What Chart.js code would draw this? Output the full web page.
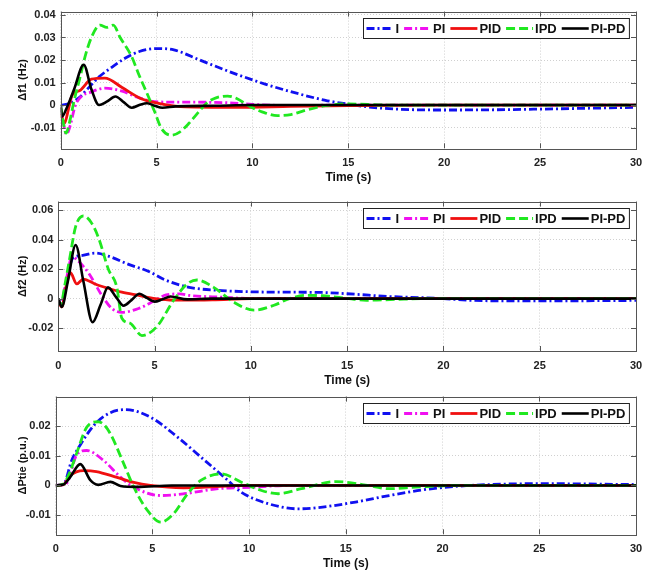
<!DOCTYPE html>
<html>
<head>
<meta charset="utf-8">
<script src="https://cdn.jsdelivr.net/npm/chart.js@4.4.1/dist/chart.umd.min.js"></script>
<style>
  html, body { margin: 0; padding: 0; background: #fff; overflow: hidden; }
  canvas { position: absolute; left: 0; }
</style>
</head>
<body>
<canvas id="f1"></canvas>
<canvas id="f2"></canvas>
<canvas id="ptie"></canvas>
<script>
// ---- data (time in s, value) ----
const seriesNames = ['I', 'PI', 'PID', 'IPD', 'PI-PD'];
const timeTicks = [0, 5, 10, 15, 20, 25, 30];

// Δf1 (Hz)
const f1Ticks = [-0.01, 0, 0.01, 0.02, 0.03, 0.04];
const f1_I = [[0,0],[0.4,0.0005],[1.0,0.0035],[1.4,0.0072],[2.0,0.0125],[2.7,0.017],[3.4,0.021],[4.1,0.0238],[5.0,0.0251],[5.9,0.0245],[7.25,0.02],[9.0,0.0142],[10.7,0.0092],[12.5,0.0048],[13.9,0.0019],[15.0,0.0004],[16.0,-0.0008],[17.5,-0.0018],[20,-0.0022],[22.5,-0.0021],[25,-0.0018],[30,-0.001]];
const f1_PI = [[0,0],[0.1,-0.006],[0.3,-0.013],[0.5,-0.009],[0.75,-0.0005],[1.1,0.004],[1.5,0.0055],[2.3,0.0075],[3.2,0.0062],[4.0,0.0035],[4.9,0.0015],[6,0.0013],[8.5,0.0011],[10,0.0003],[12,-0.0002],[15,0],[30,0]];
const f1_PID = [[0,-0.004],[0.2,-0.008],[0.4,-0.002],[0.6,0.0045],[1.0,0.0065],[1.6,0.0115],[2.3,0.012],[3.2,0.0078],[4.2,0.0028],[5.1,0.0008],[6.5,-0.0008],[9,-0.001],[12,-0.0006],[15,-0.0002],[20,0],[30,0]];
const f1_IPD = [[0,0],[0.12,-0.007],[0.28,-0.0125],[0.45,-0.008],[0.7,0.002],[1.0,0.012],[1.27,0.0215],[1.6,0.03],[2.05,0.0355],[2.4,0.0345],[2.74,0.0355],[3.1,0.03],[3.7,0.0215],[4.1,0.013],[4.56,0.004],[4.9,-0.003],[5.26,-0.0105],[5.78,-0.0134],[6.2,-0.012],[6.7,-0.008],[7.2,-0.003],[7.6,0.0008],[8.1,0.0032],[8.7,0.004],[9.2,0.0028],[9.8,-0.0003],[10.5,-0.003],[11.3,-0.0047],[12.0,-0.0042],[12.7,-0.0025],[13.8,-0.0003],[15,0.0005],[17,0],[30,0]];
const f1_PIPD = [[0,-0.001],[0.08,-0.005],[0.3,-0.0015],[0.7,0.007],[1.2,0.0179],[1.6,0.007],[2.0,0],[2.4,0.0015],[2.85,0.0038],[3.3,0.0012],[3.7,-0.0012],[4.1,0],[4.5,0.0008],[4.9,-0.0003],[5.3,-0.0012],[6,-0.0006],[8,-0.0003],[10,0],[30,0]];

// Δf2 (Hz)
const f2Ticks = [-0.02, 0, 0.02, 0.04, 0.06];
const f2_I = [[0,0],[0.15,-0.004],[0.4,0.01],[0.75,0.0275],[1.2,0.0293],[1.9,0.031],[2.6,0.0289],[3.65,0.0233],[4.7,0.0185],[5.5,0.013],[6.8,0.0077],[8.5,0.0055],[10.2,0.0046],[12,0.0044],[13.7,0.0042],[15.4,0.003],[17.1,0.0015],[18.8,0.0007],[20,0],[21.4,-0.0011],[23,-0.0015],[26,-0.0015],[30,-0.0012]];
const f2_PI = [[0,0],[0.15,-0.004],[0.4,0.012],[0.72,0.0285],[1.0,0.026],[1.56,0.0177],[2.26,0.0022],[2.78,-0.0067],[3.3,-0.0093],[4.17,-0.0067],[5.04,-0.0011],[5.6,0.0025],[6.3,0.0032],[6.8,0.0022],[8.5,0.001],[10.2,0],[30,0]];
const f2_PID = [[0,-0.002],[0.18,-0.0056],[0.4,0.008],[0.62,0.0178],[0.96,0.01],[1.3,0.0133],[1.9,0.01],[2.43,0.0077],[3.3,0.0044],[4.17,0.0022],[5.04,0],[6,-0.001],[8,-0.0008],[10,0],[30,0]];
const f2_IPD = [[0,0],[0.12,-0.004],[0.35,0.01],[0.6,0.028],[0.9,0.049],[1.3,0.0562],[1.7,0.052],[2.1,0.041],[2.6,0.02],[3.04,0.0077],[3.3,-0.0133],[3.73,-0.0167],[4.34,-0.0251],[5.12,-0.019],[5.99,-0.0011],[6.69,0.01],[7.2,0.0127],[8.07,0.0077],[9.1,-0.0023],[10.16,-0.0078],[11.2,-0.0045],[12,0],[12.85,0.0022],[13.7,0.002],[15.1,0],[16,-0.0011],[17.5,-0.0005],[19,0],[30,0]];
const f2_PIPD = [[0,0],[0.18,-0.0056],[0.5,0.012],[0.9,0.0365],[1.3,0.012],[1.78,-0.016],[2.2,-0.004],[2.58,0.0077],[3.0,0.001],[3.39,-0.0048],[3.8,-0.001],[4.22,0.0033],[4.6,0.0005],[5.0,-0.002],[5.4,-0.0005],[5.82,0.0015],[6.7,-0.0005],[8,0],[30,0]];

// ΔPtie (p.u.)
const ptTicks = [-0.01, 0, 0.01, 0.02];
const pt_I = [[0,0],[0.4,0.0003],[0.83,0.0085],[1.3,0.014],[2.0,0.0205],[2.8,0.0245],[3.6,0.0256],[4.91,0.023],[6.3,0.0163],[7.52,0.0095],[8.9,0.0017],[9.6,-0.0023],[11,-0.0062],[12.55,-0.0079],[13.8,-0.0073],[15.5,-0.0056],[17.24,-0.0034],[18.97,-0.0015],[20.7,-0.0003],[22.45,0.0003],[25,0.0006],[30,0.0003]];
const pt_PI = [[0,0],[0.4,0.0003],[0.6,0.001],[1.1,0.0105],[1.6,0.0118],[2.48,0.0084],[3.35,0.0028],[4.04,-0.0006],[5.43,-0.0034],[6.64,-0.0028],[8.4,-0.0011],[10.1,-0.0006],[12,0],[30,0]];
const pt_PID = [[0,0],[0.4,0.0003],[0.74,0.0033],[1.44,0.005],[2.1,0.0047],[3.17,0.0027],[4.04,0.001],[4.9,0],[6.6,-0.0008],[10,0],[30,0]];
const pt_IPD = [[0,0],[0.4,0.0005],[0.7,0.004],[1.09,0.011],[1.6,0.0196],[2.2,0.0215],[2.5,0.0205],[2.83,0.0174],[3.52,0.0073],[4.04,-0.0006],[4.74,-0.0084],[5.43,-0.0124],[6.1,-0.0095],[6.82,-0.0028],[7.5,0.0017],[8.56,0.0039],[9.6,0.0011],[10.64,-0.0017],[11.5,-0.0028],[12.7,-0.0011],[14.5,0.0013],[16.4,-0.0003],[17.2,-0.0011],[18.6,-0.0006],[20.7,0],[30,0]];
const pt_PIPD = [[0,0],[0.4,0.0003],[0.74,0.0027],[1.27,0.0072],[1.79,0.0018],[2.2,0.0002],[2.83,0.0012],[3.35,-0.0002],[4.2,-0.0005],[6,0],[30,0]];

// ---- styles ----
const lineColors = ['#1010f0', '#f010f0', '#f01010', '#20e820', '#000000'];
const lineDashes = [[8, 3, 2, 3], [8, 3, 2, 3], [], [9, 4], []];
const lineWidths = [2.8, 2.8, 2.8, 2.8, 2.6];
const FONT = '"Liberation Sans", Arial, sans-serif';

const fmt = v => String(+(+v).toFixed(4));

// frame, inward ticks and boxed legend, drawn on top of the lines
const framePlugin = {
  id: 'frame',
  afterDatasetsDraw(chart) {
    const { ctx, chartArea: a, scales: { x, y } } = chart;
    ctx.save();
    ctx.strokeStyle = '#555';
    ctx.lineWidth = 1;
    ctx.setLineDash([]);
    ctx.strokeRect(Math.round(a.left) + 0.5, Math.round(a.top) + 0.5,
                   Math.round(a.width), Math.round(a.height));
    ctx.beginPath();
    x.ticks.forEach(t => {
      const p = Math.round(x.getPixelForValue(t.value)) + 0.5;
      ctx.moveTo(p, a.bottom); ctx.lineTo(p, a.bottom - 5);
      ctx.moveTo(p, a.top); ctx.lineTo(p, a.top + 5);
    });
    y.ticks.forEach(t => {
      const p = Math.round(y.getPixelForValue(t.value)) + 0.5;
      ctx.moveTo(a.left, p); ctx.lineTo(a.left + 5, p);
      ctx.moveTo(a.right, p); ctx.lineTo(a.right - 5, p);
    });
    ctx.stroke();

    // legend
    ctx.font = 'bold 13px ' + FONT;
    const sample = 27, gapS = 2, gapI = 5, padL = 3, padR = 4;
    const items = chart.data.datasets.map(ds => ({ ds, w: ctx.measureText(ds.label).width }));
    const total = padL + padR + items.reduce((s, it) => s + sample + gapS + it.w, 0) + gapI * (items.length - 1);
    const bx = Math.round(a.right - 7 - total) + 0.5, by = Math.round(a.top + 6) + 0.5, bh = 20;
    ctx.fillStyle = '#fff';
    ctx.fillRect(bx, by, total, bh);
    ctx.strokeStyle = '#222';
    ctx.strokeRect(bx, by, total, bh);
    const cy = by + bh / 2;
    let cx = bx + padL;
    ctx.textBaseline = 'middle';
    items.forEach(it => {
      ctx.strokeStyle = it.ds.borderColor;
      ctx.lineWidth = it.ds.borderWidth;
      ctx.setLineDash(it.ds.borderDash);
      ctx.beginPath();
      ctx.moveTo(cx, cy); ctx.lineTo(cx + sample, cy);
      ctx.stroke();
      ctx.fillStyle = '#111';
      ctx.fillText(it.ds.label, cx + sample + gapS, cy + 1);
      cx += sample + gapS + it.w + gapI;
    });
    ctx.restore();
  }
};

function makePanel(id, canvasTop, plotTop, plotBottom, plotLeft, yMin, yMax, yTicks, yTitle, series) {
  const axisH = 42;
  const el = document.getElementById(id);
  el.width = 656;
  el.height = Math.round(plotBottom + axisH - canvasTop);
  el.style.top = canvasTop + 'px';

  const tickFont = { family: FONT, size: 11, weight: 'bold' };
  const titleFont = { family: FONT, size: 12, weight: 'bold' };

  new Chart(el.getContext('2d'), {
    type: 'line',
    data: {
      datasets: series.map((pts, i) => ({
        label: seriesNames[i],
        data: pts,
        borderColor: lineColors[i],
        borderWidth: lineWidths[i],
        borderDash: lineDashes[i],
        pointRadius: 0,
        fill: false,
        cubicInterpolationMode: 'monotone',
        order: series.length - i
      }))
    },
    options: {
      responsive: false,
      animation: false,
      devicePixelRatio: 1,
      events: [],
      layout: { padding: { top: plotTop - canvasTop, right: 20, left: 0, bottom: 0 } },
      plugins: { legend: { display: false }, tooltip: { enabled: false } },
      scales: {
        x: {
          type: 'linear', min: 0, max: 30,
          afterBuildTicks: s => { s.ticks = timeTicks.map(v => ({ value: v })); },
          afterFit: s => { s.height = el.height - (plotBottom - canvasTop); },
          grid: { color: '#d0d0d0', drawTicks: false },
          border: { display: false, dash: [1, 2] },
          ticks: { padding: 8, font: tickFont, color: '#222', maxRotation: 0, autoSkip: false },
          title: { display: true, text: 'Time (s)', font: titleFont, color: '#111', padding: { top: 0, bottom: 5 } }
        },
        y: {
          min: yMin, max: yMax,
          afterBuildTicks: s => { s.ticks = yTicks.map(v => ({ value: v })); },
          afterFit: s => { s.width = plotLeft; },
          grid: { color: '#d0d0d0', drawTicks: false },
          border: { display: false, dash: [1, 2] },
          ticks: { padding: 5, font: tickFont, color: '#222', callback: fmt },
          title: { display: true, text: yTitle, font: { family: FONT, size: 11, weight: 'bold' }, color: '#111', padding: { top: 16, bottom: 0 } }
        }
      }
    },
    plugins: [framePlugin]
  });
}

makePanel('f1', 0, 9.3, 148.3, 60.7, -0.0192, 0.0415, f1Ticks, 'Δf1 (Hz)',
  [f1_I, f1_PI, f1_PID, f1_IPD, f1_PIPD]);
makePanel('f2', 190, 199.3, 351, 58.3, -0.0356, 0.066, f2Ticks, 'Δf2 (Hz)',
  [f2_I, f2_PI, f2_PID, f2_IPD, f2_PIPD]);
makePanel('ptie', 385, 396, 534.3, 55.7, -0.0165, 0.03, ptTicks, 'ΔPtie (p.u.)',
  [pt_I, pt_PI, pt_PID, pt_IPD, pt_PIPD]);
</script>
</body>
</html>
